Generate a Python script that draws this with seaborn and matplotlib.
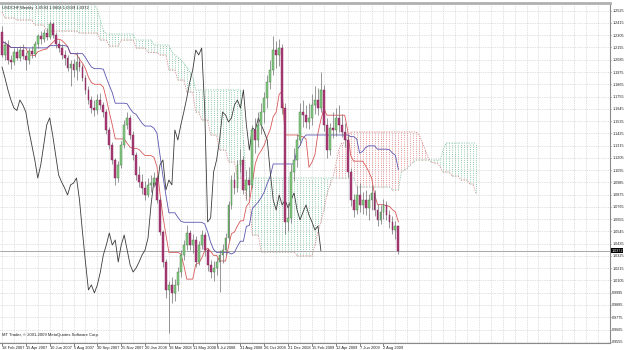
import numpy as np
import pandas as pd
import matplotlib
matplotlib.use("Agg")
import matplotlib.pyplot as plt
import seaborn as sns

symbol_title = "USDCHF,Weekly"
copyright_text = "MT Trader, \u00a9 2001-2009 MetaQuotes Software Corp."

# weekly candles, week 0 = 18 Feb 2007
opens = [
    1.2330, 1.2128, 1.2217, 1.2083, 1.2065, 1.2155, 1.2101, 1.2172, 1.2119, 1.2083,
    1.2164, 1.2137, 1.2226, 1.2298, 1.2271, 1.2325, 1.2289, 1.2406, 1.2307, 1.2226,
    1.2190, 1.2128, 1.2101, 1.2011, 1.2047, 1.1993, 1.2065, 1.2020, 1.1921, 1.1814,
    1.1724, 1.1652, 1.1630, 1.1724, 1.1679, 1.1616, 1.1455, 1.1320, 1.1186, 1.1024,
    1.1141, 1.1320, 1.1500, 1.1563, 1.1410, 1.1231, 1.1051, 1.0988, 1.0935, 1.0872,
    1.0962, 1.0979, 1.1024, 1.0827, 1.0540, 1.0271, 1.0020, 1.0065, 0.9993, 1.0065,
    1.0181, 1.0334, 1.0423, 1.0531, 1.0423, 1.0468, 1.0271, 1.0423, 1.0513, 1.0378,
    1.0244, 1.0181, 1.0217, 1.0271, 1.0334, 1.0378, 1.0486, 1.0782, 1.1006, 1.0935,
    1.1141, 1.1186, 1.0917, 1.1006, 1.0962, 1.1455, 1.1365, 1.1500, 1.1616, 1.1742,
    1.1885, 1.1993, 1.2172, 1.2128, 1.2190, 1.1652, 1.0630, 1.0666, 1.1078, 1.1186,
    1.1365, 1.1616, 1.1589, 1.1527, 1.1563, 1.1679, 1.1724, 1.1652, 1.1814, 1.1500,
    1.1275, 1.1473, 1.1455, 1.1563, 1.1500, 1.1437, 1.1365, 1.1078, 1.0827, 1.0737,
    1.0872, 1.0782, 1.0827, 1.0755, 1.0827, 1.0890, 1.0737, 1.0648, 1.0719, 1.0782,
    1.0692, 1.0630, 1.0558, 1.0593,
]
highs = [
    1.2390, 1.2250, 1.2260, 1.2130, 1.2190, 1.2200, 1.2210, 1.2230, 1.2150, 1.2190,
    1.2210, 1.2250, 1.2320, 1.2340, 1.2360, 1.2370, 1.2430, 1.2420, 1.2330, 1.2260,
    1.2230, 1.2170, 1.2130, 1.2080, 1.2090, 1.2150, 1.2110, 1.2050, 1.1950, 1.1850,
    1.1760, 1.1720, 1.1780, 1.1790, 1.1710, 1.1640, 1.1480, 1.1350, 1.1200, 1.1180,
    1.1360, 1.1540, 1.1620, 1.1590, 1.1450, 1.1260, 1.1130, 1.1060, 1.1000, 1.1020,
    1.1050, 1.1080, 1.1050, 1.0850, 1.0560, 1.0300, 1.0100, 1.0140, 1.0120, 1.0230,
    1.0380, 1.0470, 1.0600, 1.0560, 1.0520, 1.0500, 1.0460, 1.0560, 1.0540, 1.0400,
    1.0290, 1.0280, 1.0310, 1.0380, 1.0430, 1.0530, 1.0820, 1.1050, 1.1080, 1.1190,
    1.1280, 1.1220, 1.1100, 1.1120, 1.1500, 1.1560, 1.1620, 1.1700, 1.1800, 1.1950,
    1.2080, 1.2300, 1.2250, 1.2270, 1.2230, 1.1700, 1.0800, 1.1150, 1.1290, 1.1420,
    1.1700, 1.1720, 1.1680, 1.1700, 1.1780, 1.1850, 1.1830, 1.1975, 1.1860, 1.1560,
    1.1520, 1.1620, 1.1650, 1.1680, 1.1600, 1.1520, 1.1400, 1.1110, 1.0880, 1.0950,
    1.0980, 1.0900, 1.0920, 1.0880, 1.0960, 1.0920, 1.0790, 1.0780, 1.0840, 1.0820,
    1.0740, 1.0680, 1.0640, 1.0604,
]
lows = [
    1.2110, 1.2080, 1.2050, 1.2000, 1.2040, 1.2080, 1.2070, 1.2090, 1.1993, 1.2050,
    1.2100, 1.2110, 1.2190, 1.2230, 1.2240, 1.2260, 1.2270, 1.2280, 1.2190, 1.2150,
    1.2090, 1.2040, 1.1980, 1.1850, 1.1930, 1.1900, 1.1980, 1.1890, 1.1780, 1.1690,
    1.1610, 1.1580, 1.1600, 1.1640, 1.1570, 1.1420, 1.1280, 1.1150, 1.0960, 1.0990,
    1.1110, 1.1290, 1.1460, 1.1370, 1.1190, 1.1010, 1.0940, 1.0880, 1.0830, 1.0850,
    1.0900, 1.0940, 1.0800, 1.0510, 1.0230, 0.9950, 0.9634, 0.9900, 0.9920, 1.0010,
    1.0140, 1.0290, 1.0380, 1.0380, 1.0350, 1.0230, 1.0240, 1.0390, 1.0320, 1.0190,
    1.0130, 1.0100, 1.0150, 1.0000, 1.0260, 1.0330, 1.0460, 1.0750, 1.0880, 1.0900,
    1.1080, 1.0880, 1.0840, 1.0850, 1.0930, 1.1250, 1.1300, 1.1420, 1.1520, 1.1650,
    1.1820, 1.1950, 1.2010, 1.2030, 1.1600, 1.0520, 1.0550, 1.0620, 1.1000, 1.1120,
    1.1320, 1.1480, 1.1470, 1.1460, 1.1500, 1.1600, 1.1590, 1.1620, 1.1450, 1.1200,
    1.1230, 1.1380, 1.1400, 1.1440, 1.1390, 1.1300, 1.1030, 1.0770, 1.0670, 1.0700,
    1.0720, 1.0700, 1.0690, 1.0650, 1.0740, 1.0680, 1.0590, 1.0610, 1.0660, 1.0650,
    1.0580, 1.0520, 1.0480, 1.0339,
]
closes = [
    1.2128, 1.2217, 1.2083, 1.2065, 1.2155, 1.2101, 1.2172, 1.2119, 1.2083, 1.2164,
    1.2137, 1.2226, 1.2298, 1.2271, 1.2325, 1.2289, 1.2406, 1.2307, 1.2226, 1.2190,
    1.2128, 1.2101, 1.2011, 1.2047, 1.1993, 1.2065, 1.2020, 1.1921, 1.1814, 1.1724,
    1.1652, 1.1630, 1.1724, 1.1679, 1.1616, 1.1455, 1.1320, 1.1186, 1.1024, 1.1141,
    1.1320, 1.1500, 1.1563, 1.1410, 1.1231, 1.1051, 1.0988, 1.0935, 1.0872, 1.0962,
    1.0979, 1.1024, 1.0827, 1.0540, 1.0271, 1.0020, 1.0065, 0.9993, 1.0065, 1.0181,
    1.0334, 1.0423, 1.0531, 1.0423, 1.0468, 1.0271, 1.0423, 1.0513, 1.0378, 1.0244,
    1.0181, 1.0217, 1.0271, 1.0334, 1.0378, 1.0486, 1.0782, 1.1006, 1.0935, 1.1141,
    1.1186, 1.0917, 1.1006, 1.0962, 1.1455, 1.1365, 1.1500, 1.1616, 1.1742, 1.1885,
    1.1993, 1.2172, 1.2128, 1.2190, 1.1652, 1.0630, 1.0666, 1.1078, 1.1186, 1.1365,
    1.1616, 1.1589, 1.1527, 1.1563, 1.1679, 1.1724, 1.1652, 1.1814, 1.1500, 1.1275,
    1.1473, 1.1455, 1.1563, 1.1500, 1.1437, 1.1365, 1.1078, 1.0827, 1.0737, 1.0872,
    1.0782, 1.0827, 1.0755, 1.0827, 1.0890, 1.0737, 1.0648, 1.0719, 1.0782, 1.0692,
    1.0630, 1.0558, 1.0593, 1.0372,
]

# Senkou spans (already shifted 26 weeks forward)
senkou_a = [
    1.2513, 1.2460, 1.2460, 1.2460, 1.2460, 1.2442, 1.2442, 1.2442, 1.2442, 1.2442,
    1.2442, 1.2397, 1.2397, 1.2397, 1.2397, 1.2343, 1.2343, 1.2343, 1.2343, 1.2343,
    1.2343, 1.2343, 1.2343, 1.2343, 1.2343, 1.2343, 1.2325, 1.2325, 1.2325, 1.2325,
    1.2325, 1.2325, 1.2325, 1.2262, 1.2262, 1.2262, 1.2208, 1.2208, 1.2208, 1.2208,
    1.2262, 1.2262, 1.2262, 1.2262, 1.2262, 1.2190, 1.2190, 1.2190, 1.2190, 1.2150,
    1.2150, 1.2150, 1.2150, 1.2128, 1.2128, 1.2128, 1.1993, 1.1993, 1.1993, 1.1903,
    1.1903, 1.1903, 1.1796, 1.1796, 1.1796, 1.1616, 1.1616, 1.1545, 1.1545, 1.1545,
    1.1410, 1.1410, 1.1410, 1.1275, 1.1275, 1.1275, 1.1168, 1.1168, 1.1168, 1.1024,
    1.1024, 1.1024, 1.0827, 1.0827, 1.0513, 1.0513, 1.0513, 1.0361, 1.0361, 1.0361,
    1.0361, 1.0361, 1.0361, 1.0361, 1.0361, 1.0361, 1.0361, 1.0361, 1.0361, 1.0325,
    1.0325, 1.0325, 1.0325, 1.0325, 1.0325, 1.0423, 1.0540, 1.0630, 1.0737, 1.0872,
    1.0962, 1.1024, 1.1141, 1.1275, 1.1338, 1.1338, 1.1383, 1.1437, 1.1437, 1.1437,
    1.1437, 1.1437, 1.1437, 1.1437, 1.1437, 1.1437, 1.1437, 1.1437, 1.1437, 1.1437,
    1.1437, 1.1437, 1.1437, 1.1437, 1.1437, 1.1437, 1.1437, 1.1437, 1.1437, 1.1437,
    1.1410, 1.1347, 1.1275, 1.1204, 1.1168, 1.1159, 1.1159, 1.1123, 1.1078, 1.1078,
    1.1078, 1.1042, 1.1042, 1.1042, 1.1006, 1.1006, 1.1006, 1.0971, 1.0971, 1.0890,
]
senkou_b = [
    1.2585, 1.2585, 1.2585, 1.2585, 1.2585, 1.2585, 1.2585, 1.2585, 1.2585, 1.2585,
    1.2585, 1.2585, 1.2585, 1.2585, 1.2585, 1.2585, 1.2585, 1.2585, 1.2585, 1.2585,
    1.2585, 1.2585, 1.2585, 1.2585, 1.2585, 1.2585, 1.2585, 1.2585, 1.2585, 1.2585,
    1.2585, 1.2585, 1.2531, 1.2442, 1.2352, 1.2316, 1.2316, 1.2316, 1.2316, 1.2316,
    1.2316, 1.2316, 1.2316, 1.2316, 1.2316, 1.2262, 1.2262, 1.2262, 1.2262, 1.2262,
    1.2262, 1.2217, 1.2217, 1.2217, 1.2217, 1.2217, 1.2217, 1.2155, 1.2128, 1.2110,
    1.2083, 1.2056, 1.2020, 1.1975, 1.1930, 1.1814, 1.1814, 1.1814, 1.1814, 1.1814,
    1.1814, 1.1814, 1.1814, 1.1814, 1.1814, 1.1814, 1.1814, 1.1814, 1.1814, 1.1814,
    1.1814, 1.1365, 1.1024, 1.1024, 1.1024, 1.1024, 1.1024, 1.1024, 1.1024, 1.1024,
    1.1024, 1.1024, 1.1024, 1.1024, 1.1024, 1.1024, 1.1024, 1.1024, 1.1024, 1.1024,
    1.1024, 1.1024, 1.1024, 1.1024, 1.1024, 1.1024, 1.1024, 1.1024, 1.1024, 1.1024,
    1.1024, 1.1024, 1.1024, 1.1024, 1.1024, 1.1024, 1.1024, 1.1024, 1.1024, 1.0944,
    1.0944, 1.0944, 1.0944, 1.0944, 1.0944, 1.0944, 1.0944, 1.0944, 1.0944, 1.0944,
    1.0944, 1.0917, 1.0917, 1.0917, 1.1078, 1.1096, 1.1114, 1.1141, 1.1168, 1.1186,
    1.1186, 1.1186, 1.1186, 1.1186, 1.1186, 1.1186, 1.1186, 1.1186, 1.1275, 1.1338,
    1.1338, 1.1338, 1.1338, 1.1338, 1.1338, 1.1338, 1.1338, 1.1338, 1.1338, 1.1338,
]

price_ticks = [
    0.9555, 0.9665, 0.9775, 0.9885, 0.9995, 1.0105, 1.0215, 1.0325, 1.0435, 1.0545,
    1.0655, 1.0765, 1.0875, 1.0985, 1.1095, 1.1205, 1.1315, 1.1425, 1.1535, 1.1645,
    1.1755, 1.1865, 1.1975, 1.2085, 1.2195, 1.2305, 1.2415, 1.2525,
]
date_labels = [
    "18 Feb 2007", "15 Apr 2007", "10 Jun 2007", "5 Aug 2007", "30 Sep 2007",
    "25 Nov 2007", "20 Jan 2008", "16 Mar 2008", "11 May 2008", "6 Jul 2008",
    "31 Aug 2008", "26 Oct 2008", "21 Dec 2008", "15 Feb 2009", "12 Apr 2009",
    "7 Jun 2009", "2 Aug 2009",
]

sns.set_theme(style="white")
plt.rcParams["font.family"] = ["Liberation Sans", "DejaVu Sans"]

df = pd.DataFrame({"open": opens, "high": highs, "low": lows, "close": closes})
df["week"] = np.arange(len(df))
# Ichimoku conversion / base lines from the candle data
df["tenkan"] = (df["high"].rolling(9, min_periods=1).max() + df["low"].rolling(9, min_periods=1).min()) / 2
df["kijun"] = (df["high"].rolling(26, min_periods=1).max() + df["low"].rolling(26, min_periods=1).min()) / 2
chikou = pd.DataFrame({"week": df["week"].values[26:] - 26, "close": df["close"].values[26:]})
cloud = pd.DataFrame({"week": np.arange(len(senkou_a)), "a": senkou_a, "b": senkou_b})

fig = plt.figure(figsize=(6.25, 3.5), dpi=100)
ax = fig.add_axes([0.0, 7 / 350, 610 / 625, 340 / 350])
ax.set_facecolor("white")

# cloud hatch (vertical dotted strokes)
green_c = cloud[cloud["b"] >= cloud["a"]]
red_c = cloud[cloud["b"] < cloud["a"]]
ax.vlines(green_c["week"], green_c["a"], green_c["b"], colors="#6fbf9a",
          linestyles=(0, (1, 1.6)), lw=0.6, zorder=1)
ax.vlines(red_c["week"], red_c["b"], red_c["a"], colors="#e07878",
          linestyles=(0, (1, 1.6)), lw=0.6, zorder=1)
sns.lineplot(data=cloud, x="week", y="a", ax=ax, color="#d98a8a", lw=0.6,
             linestyle=(0, (1.5, 1.5)), estimator=None, sort=False, zorder=2)
sns.lineplot(data=cloud, x="week", y="b", ax=ax, color="#8cc7a8", lw=0.6,
             linestyle=(0, (1.5, 1.5)), estimator=None, sort=False, zorder=2)

# bid line
ax.axhline(closes[-1], color="#a8a8a8", lw=0.7, zorder=2)

# indicator lines
sns.lineplot(data=df, x="week", y="tenkan", ax=ax, color="#d85858", lw=0.6,
             estimator=None, sort=False, zorder=3)
sns.lineplot(data=df, x="week", y="kijun", ax=ax, color="#5a55b0", lw=0.6,
             estimator=None, sort=False, zorder=3)
sns.lineplot(data=chikou, x="week", y="close", ax=ax, color="#3a3a3a", lw=0.6,
             estimator=None, sort=False, zorder=3)

# candles
up = df[df["close"] >= df["open"]]
dn = df[df["close"] < df["open"]]
ax.vlines(df["week"], df["low"], df["high"], colors="#6e6e6e", lw=0.5, zorder=4)
ax.bar(up["week"], up["close"] - up["open"], bottom=up["open"], width=0.62,
       color="#86cc86", edgecolor="#3c783c", lw=0.3, zorder=5)
ax.bar(dn["week"], dn["open"] - dn["close"], bottom=dn["close"], width=0.62,
       color="#ad3a76", edgecolor="#7a2352", lw=0.3, zorder=5)

ax.set_xlim(-0.67, 204)
ax.set_ylim(0.9544, 1.2594)

ax.yaxis.tick_right()
ax.set_yticks(price_ticks)
ax.set_yticklabels([f"{p:.4f}" for p in price_ticks], fontsize=2.7, color="#202020")
label_weeks = list(range(0, 8 * len(date_labels), 8))
ax.set_xticks(label_weeks)
ax.set_xticklabels(date_labels, fontsize=2.9, ha="left", color="#202020")
ax.set_xticks(list(range(0, 205, 4)), minor=True)
ax.tick_params(axis="y", which="major", length=1.0, width=0.4, pad=0.6, right=True, colors="#202020")
ax.tick_params(axis="x", which="major", length=2, width=0.4, pad=0.5, bottom=True, colors="#202020")
ax.tick_params(axis="x", which="minor", length=0)
ax.grid(True, which="both", color="#c4c4c4", lw=0.5, linestyle=(0, (1, 1.5)))
ax.set_axisbelow(True)
ax.set_xlabel("")
ax.set_ylabel("")

ax.spines["left"].set_visible(False)
ax.spines["right"].set_color("#8a8a8a")
ax.spines["right"].set_linewidth(0.8)
ax.spines["bottom"].set_color("#8a8a8a")
ax.spines["bottom"].set_linewidth(0.8)
ax.spines["top"].set_color("#b0b0b0")
ax.spines["top"].set_linewidth(2.0)

ax.text(0.004, 0.99, f"{symbol_title}  {opens[-1]:.4f} {highs[-1]:.4f} {lows[-1]:.4f} {closes[-1]:.4f}",
        transform=ax.transAxes, fontsize=3.0, va="top", ha="left", color="#202020")
ax.text(0.004, 8 / 340, copyright_text, transform=ax.transAxes, fontsize=3.0,
        va="center", ha="left", color="#202020")
ax.text(1.002, closes[-1], f"{closes[-1]:.4f}", transform=ax.get_yaxis_transform(),
        fontsize=2.7, color="white", va="center", ha="left", zorder=10,
        bbox=dict(facecolor="black", edgecolor="none", pad=0.4))

fig.savefig("out.png", dpi=100, facecolor="white")
